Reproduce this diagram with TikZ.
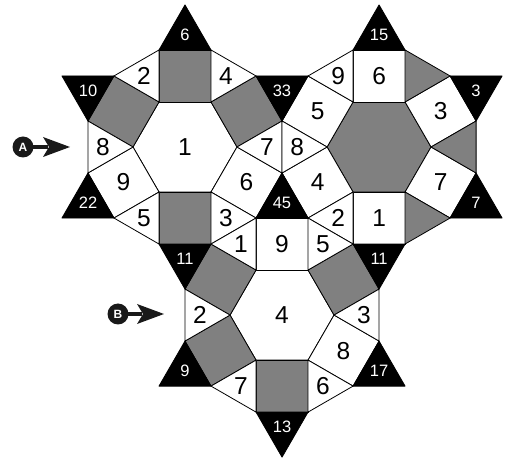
\documentclass[tikz,border=0pt]{standalone}
\usepackage{fontspec}
\setmainfont{Liberation Sans}
\usetikzlibrary{calc}
\definecolor{tilegrey}{RGB}{128,128,128}
\tikzset{
  tile/.style={draw=black, line width=0.8pt, line join=round},
  num/.style={inner sep=0pt, font=\fontsize{24.5}{24.5}\selectfont},
  smallnum/.style={inner sep=0pt, text=white, font=\fontsize{16.5}{16.5}\selectfont},
  badge/.style={circle, fill=black!90, inner sep=0pt, minimum size=21pt,
    text=white, font=\bfseries\fontsize{12}{12}\selectfont},
  pointer/.style={fill=black!90},
}
\begin{document}
\begin{tikzpicture}[x=1pt, y=1pt]
\useasboundingbox (0,0) rectangle (506,458);
% side length 52, square + triangle depth 52(1+sqrt3)
\def\side{52}
\def\reach{142.07}
% hexagon centres and their vertices / square corners / star tips
\foreach \h/\cx/\cy in {a/185/311, b/379.07/311, c/282.04/142.93} {
  \coordinate (\h) at (\cx,\cy);
  \foreach \k in {0,...,5} {
    \coordinate (\h v\k) at ($(\h)+(60*\k:\side)$);
  }
  \foreach \k in {0,...,5} {
    \pgfmathtruncatemacro\kn{mod(\k+1,6)}
    \coordinate (\h w\k) at ($(\h v\k)+(60*\k+30:\side)$);
    \coordinate (\h u\k) at ($(\h v\kn)+(60*\k+30:\side)$);
    \coordinate (\h t\k) at ($(\h)+(60*\k+30:\reach)$);
  }
}
% hexagons
\foreach \h/\fc in {a/white, b/tilegrey, c/white} {
  \draw[tile, fill=\fc] (\h v0) -- (\h v1) -- (\h v2) -- (\h v3) -- (\h v4) -- (\h v5) -- cycle;
}
% squares on the hexagon edges
\foreach \h/\k/\fc in {a/0/tilegrey, a/1/tilegrey, a/2/tilegrey, a/3/white, a/4/tilegrey, a/5/white,
                       b/0/white, b/1/white, b/2/white, b/3/white, b/4/white, b/5/white,
                       c/0/tilegrey, c/1/white, c/2/tilegrey, c/3/tilegrey, c/4/tilegrey, c/5/white} {
  \pgfmathtruncatemacro\kn{mod(\k+1,6)}
  \draw[tile, fill=\fc] (\h v\k) -- (\h w\k) -- (\h u\k) -- (\h v\kn) -- cycle;
}
% triangles at the hexagon corners
\foreach \h/\k/\fc in {a/0/white, a/1/white, a/2/white, a/3/white, a/4/white, a/5/white,
                       b/0/tilegrey, b/1/tilegrey, b/2/white, b/3/white, b/4/white, b/5/tilegrey,
                       c/0/white, c/1/white, c/2/white, c/3/white, c/4/white, c/5/white} {
  \pgfmathtruncatemacro\kp{mod(\k+5,6)}
  \draw[tile, fill=\fc] (\h v\k) -- (\h u\kp) -- (\h w\k) -- cycle;
}
% black star points on the outer square edges
\foreach \h/\k in {a/0, a/1, a/2, a/3, a/4, a/5, b/0, b/1, b/4, b/5, c/3, c/4, c/5} {
  \draw[tile, fill=black] (\h w\k) -- (\h t\k) -- (\h u\k) -- cycle;
}
% numbers in the hexagons
\node[num] (na) at (a) {1};
\node[num] (nc) at (c) {4};
% numbers in the squares
\foreach \h/\k/\t in {a/3/9, a/5/6, b/0/3, b/1/6, b/2/5, b/3/4, b/4/1, b/5/7, c/1/9, c/5/8} {
  \node[num] (\h s\k) at ($(\h)+(60*\k+30:71)$) {\t};
}
% numbers in the corner triangles
\foreach \h/\k/\t in {a/0/7, a/1/4, a/2/2, a/3/8, a/4/5, a/5/3, b/2/9, b/3/8, b/4/2,
                      c/0/3, c/1/5, c/2/1, c/3/2, c/4/7, c/5/6} {
  \node[num] (\h r\k) at ($(\h)+(60*\k:82)$) {\t};
}
% numbers in the star points
\foreach \h/\k/\t in {a/0/33, a/1/6, a/2/10, a/3/22, a/4/11, a/5/45, b/0/3, b/1/15, b/4/11, b/5/7,
                      c/3/9, c/4/13, c/5/17} {
  \node[smallnum] (\h p\k) at ($(\h)+(60*\k+30:112)$) {\t};
}
% entry markers A and B
\foreach \m/\cx/\cy/\tx in {A/23/311/70, B/118/144/164} {
  \fill[pointer] (\cx+8,\cy-2.4) rectangle (\tx-22,\cy+2.4);
  \fill[pointer] (\tx,\cy) -- (\tx-27,\cy+10) -- (\tx-21,\cy) -- (\tx-27,\cy-10) -- cycle;
  \node[badge] (mark\m) at (\cx,\cy) {\m};
}
\end{tikzpicture}
\end{document}
